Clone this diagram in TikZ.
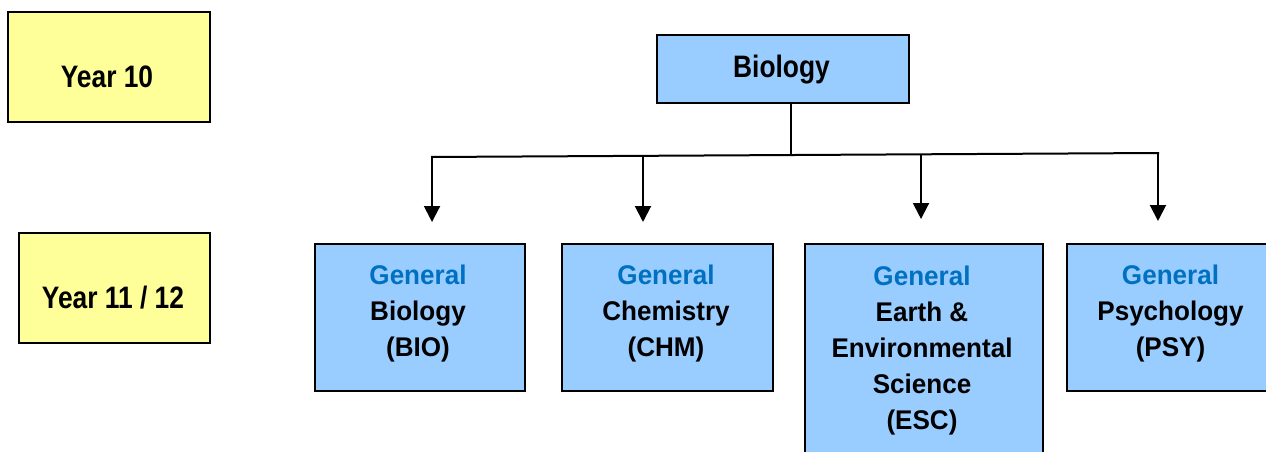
\documentclass[tikz,border=0pt]{standalone}
\usepackage{fontspec}
\setmainfont{Liberation Sans}
\newfontfamily\subjfont[FakeStretch=0.965]{Liberation Sans}
\newfontfamily\topfont[FakeStretch=0.85]{Liberation Sans}
\usetikzlibrary{arrows.meta,calc}
\definecolor{yearyellow}{HTML}{FFFF99}
\definecolor{boxblue}{HTML}{99CCFF}
\definecolor{genblue}{HTML}{0070C0}
\tikzset{
  yearbox/.style={draw=black,line width=2pt,fill=yearyellow,anchor=north west,inner sep=0pt},
  subjbox/.style={draw=black,line width=2pt,fill=boxblue,anchor=north west,inner sep=0pt},
  toptxt/.style={font=\topfont\fontsize{31}{36}\selectfont\bfseries,align=center,anchor=base,inner sep=0pt},
  txt/.style={font=\subjfont\fontsize{27}{36}\selectfont\bfseries,align=center,anchor=base,inner sep=0pt},
  conn/.style={line width=2pt,draw=black},
  arr/.style={conn,-{Triangle[width=16pt,length=16pt]}}
}
\begin{document}
\begin{tikzpicture}[x=1pt,y=-1pt]
\clip (0,0) rectangle (1266,452);
\fill[white] (0,0) rectangle (1266,452);
% year boxes
\node[yearbox,minimum width=202pt,minimum height=110pt] (y10) at (7,11) {};
\node[toptxt] (y10t) at (107,88) {Year 10};
\node[yearbox,minimum width=191pt,minimum height=110pt] (y11) at (18,232) {};
\node[toptxt] (y11t) at (113,308) {Year 11 / 12};
% biology
\node[subjbox,minimum width=252pt,minimum height=68pt] (biol) at (656,34) {};
\node[toptxt] (biolt) at (781.5,77.5) {Biology};
% subject boxes (last-line baselines)
\node[subjbox,minimum width=210pt,minimum height=147pt] (bio) at (314,243) {};
\node[txt] (biot) at (418,356) {\textcolor{genblue}{General}\\Biology\\(BIO)};
\node[subjbox,minimum width=211pt,minimum height=147pt] (chm) at (561,243) {};
\node[txt] (chmt) at (666,356) {\textcolor{genblue}{General}\\Chemistry\\(CHM)};
\node[subjbox,minimum width=238pt,minimum height=230pt] (esc) at (804,243) {};
\node[txt] (esct) at (922,429) {\textcolor{genblue}{General}\\Earth \&\\Environmental\\Science\\(ESC)};
\node[subjbox,minimum width=230pt,minimum height=147pt] (psy) at (1066,243) {};
\node[txt] (psyt) at (1170.5,356) {\textcolor{genblue}{General}\\Psychology\\(PSY)};
% connectors
\coordinate (hl) at (431,157);
\coordinate (hr) at (1159,153);
\coordinate (hm) at ($(hl)!0.4945!(hr)$);
\draw[conn] (biol.south -| hm) -- (hm);
\draw[conn] (hl) -- (hr);
\coordinate (a1) at ($(hl)!0.0014!(hr)$);
\coordinate (a2) at ($(hl)!0.2912!(hr)$);
\coordinate (a3) at ($(hl)!0.6731!(hr)$);
\coordinate (a4) at ($(hl)!0.9986!(hr)$);
\coordinate (e1) at (a1 |- 0,222);
\coordinate (e2) at (a2 |- 0,222);
\coordinate (e3) at (a3 |- 0,219);
\coordinate (e4) at (a4 |- 0,221);
\draw[arr] (a1) -- (e1);
\draw[arr] (a2) -- (e2);
\draw[arr] (a3) -- (e3);
\draw[arr] (a4) -- (e4);
\end{tikzpicture}
\end{document}
